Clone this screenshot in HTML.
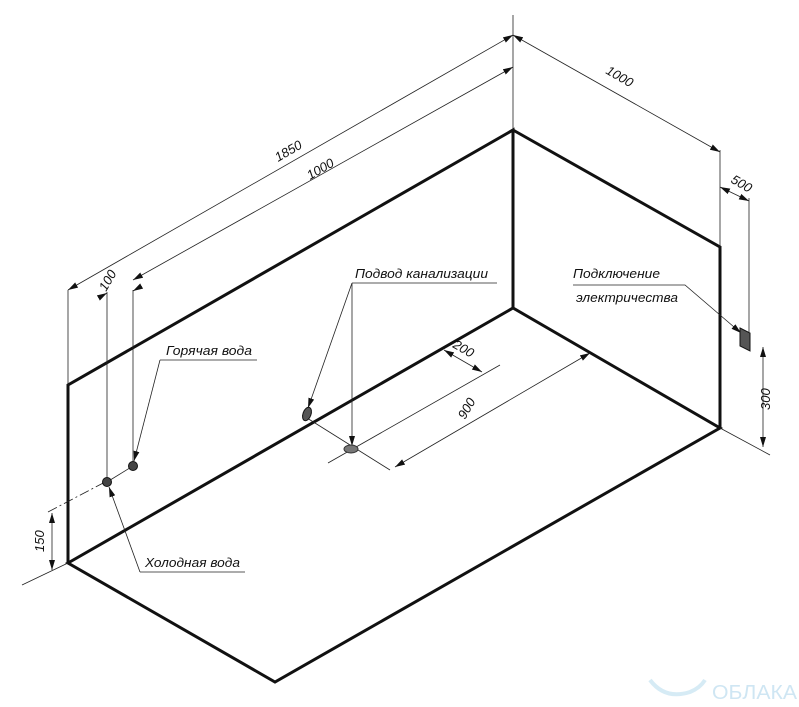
<!DOCTYPE html>
<html><head><meta charset="utf-8"><style>
html,body{margin:0;padding:0;background:#fff;}
svg{display:block;}
text{font-family:"Liberation Sans",sans-serif;font-style:italic;font-size:13px;fill:#111;}
</style></head><body>
<svg width="799" height="707" viewBox="0 0 799 707" xmlns="http://www.w3.org/2000/svg">
<defs>
<marker id="a" viewBox="0 0 10 6" refX="10" refY="3" markerWidth="10" markerHeight="6" orient="auto-start-reverse" markerUnits="userSpaceOnUse"><path d="M0,0L10,3L0,6z" fill="#111"/></marker>
</defs>
<g stroke="#111" stroke-width="3" fill="none" stroke-linejoin="miter">
<path d="M68,563 L68,385 L513,130 L513,308"/>
<path d="M513,130 L720,247 L720,428"/>
<path d="M68,563 L513,308 L720,428 L275,682 Z"/>
</g>
<g stroke="#222" stroke-width="0.8" fill="none">
<!-- extensions -->
<path d="M513,15 V130"/>
<path d="M68,290 V385"/>
<path d="M107,292 V482"/>
<path d="M133,290 V466"/>
<path d="M720,150 V247"/>
<path d="M749,198 V332"/>
<path d="M720,428 L770,455"/>
<path d="M68,563 L22,585"/>
<path d="M48,512 L107,481" stroke-dasharray="10,3,2,3"/>
<path d="M107,482 L133,466"/>
<path d="M307,418 L390,470"/>
<path d="M328,463 L500,365"/>
<!-- dims -->
<path d="M68,290 L513,35" marker-start="url(#a)" marker-end="url(#a)"/>
<path d="M133,280 L513,67" marker-start="url(#a)" marker-end="url(#a)"/>
<path d="M513,35 L720,152" marker-start="url(#a)" marker-end="url(#a)"/>
<path d="M720,187 L749,201" marker-start="url(#a)" marker-end="url(#a)"/>
<path d="M100,297 L107,293" marker-end="url(#a)"/>
<path d="M140,287 L133,291" marker-end="url(#a)"/>
<path d="M763,347 V447" marker-start="url(#a)" marker-end="url(#a)"/>
<path d="M52,513 V570" marker-start="url(#a)" marker-end="url(#a)"/>
<path d="M444,350 L482,372" marker-start="url(#a)" marker-end="url(#a)"/>
<path d="M395,467 L590,353" marker-start="url(#a)" marker-end="url(#a)"/>
<!-- leaders -->
<path d="M352,283 H497"/>
<path d="M352,283 L308,408" marker-end="url(#a)"/>
<path d="M352,283 L352,446" marker-end="url(#a)"/>
<path d="M160,360 H257"/>
<path d="M160,360 L134,461" marker-end="url(#a)"/>
<path d="M140,572 H245"/>
<path d="M140,572 L109,487" marker-end="url(#a)"/>
<path d="M573,285 H685 L741,333" marker-end="url(#a)"/>
</g>
<!-- objects -->
<circle cx="107" cy="482" r="4.5" fill="#444" stroke="#111"/>
<circle cx="133" cy="466" r="4.5" fill="#444" stroke="#111"/>
<ellipse cx="307" cy="414" rx="4" ry="7" fill="#555" stroke="#111" transform="rotate(20 307 414)"/>
<ellipse cx="351" cy="449" rx="7" ry="4" fill="#777" stroke="#333"/>
<path d="M740,328 L750,333 L750,351 L740,346 Z" fill="#555" stroke="#111"/>
<!-- labels -->
<text transform="translate(278,162) rotate(-30)">1850</text>
<text transform="translate(310,180) rotate(-30)">1000</text>
<text transform="translate(605,73) rotate(30)">1000</text>
<text transform="translate(730,182) rotate(30)">500</text>
<text transform="translate(106,292) rotate(-60)">100</text>
<text transform="translate(770,410) rotate(-90)">300</text>
<text transform="translate(44,552) rotate(-90)">150</text>
<text transform="translate(452,347) rotate(30)">200</text>
<text transform="translate(465,420) rotate(-60)">900</text>
<text x="355" y="278" textLength="133" lengthAdjust="spacingAndGlyphs">Подвод канализации</text>
<text x="166" y="355" textLength="86" lengthAdjust="spacingAndGlyphs">Горячая вода</text>
<text x="145" y="567" textLength="95" lengthAdjust="spacingAndGlyphs">Холодная вода</text>
<text x="573" y="278" textLength="87" lengthAdjust="spacingAndGlyphs">Подключение</text>
<text x="576" y="302" textLength="102" lengthAdjust="spacingAndGlyphs">электричества</text>
<text x="712" y="699" style="font-style:normal;font-size:20px;fill:#cfe6f3" textLength="85" lengthAdjust="spacingAndGlyphs">ОБЛАКА</text>
<path d="M650,680 Q665,700 690,692 Q700,688 705,680" stroke="#d6ebf5" stroke-width="4" fill="none"/>
</svg>
</body></html>
